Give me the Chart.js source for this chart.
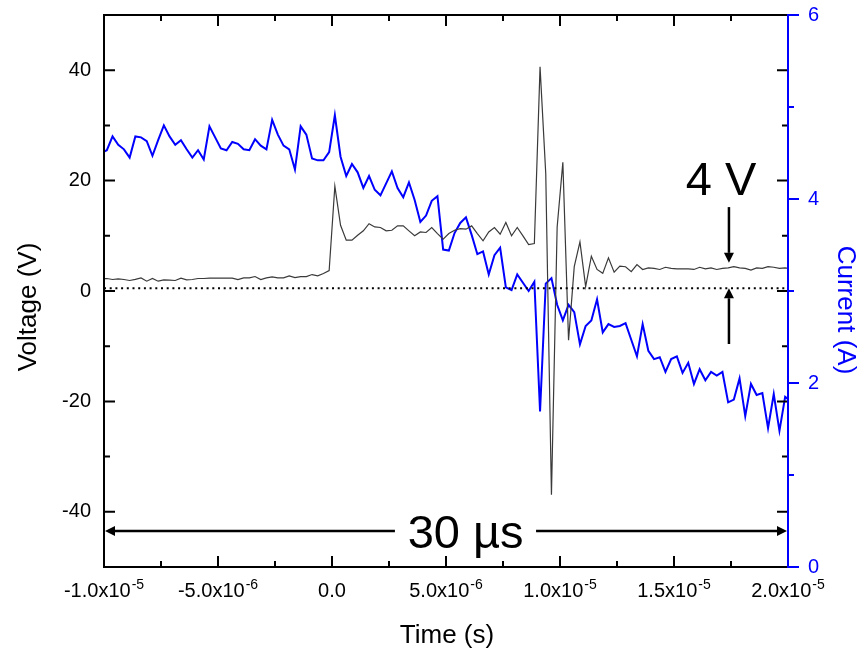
<!DOCTYPE html>
<html>
<head>
<meta charset="utf-8">
<title>Voltage and current vs time</title>
<script src="https://cdn.jsdelivr.net/npm/chart.js@4.4.0/dist/chart.umd.min.js"></script>
<style>
  html, body { margin: 0; padding: 0; background: #fff; }
  #wrap { width: 861px; height: 650px; }
</style>
</head>
<body>
<div id="wrap"><canvas id="chart" width="861" height="650"></canvas></div>
<script>
// Sample times (µs) – scope record, 0.25 µs apart
const timeUs = [
  -10.125, -9.875, -9.625, -9.375, -9.125, -8.875, -8.625, -8.375, -8.125, -7.875,
  -7.625, -7.375, -7.125, -6.875, -6.625, -6.375, -6.125, -5.875, -5.625, -5.375,
  -5.125, -4.875, -4.625, -4.375, -4.125, -3.875, -3.625, -3.375, -3.125, -2.875,
  -2.625, -2.375, -2.125, -1.875, -1.625, -1.375, -1.125, -0.875, -0.625, -0.375,
  -0.125, 0.125, 0.375, 0.625, 0.875, 1.125, 1.375, 1.625, 1.875, 2.125,
  2.375, 2.625, 2.875, 3.125, 3.375, 3.625, 3.875, 4.125, 4.375, 4.625,
  4.875, 5.125, 5.375, 5.625, 5.875, 6.125, 6.375, 6.625, 6.875, 7.125,
  7.375, 7.625, 7.875, 8.125, 8.375, 8.625, 8.875, 9.125, 9.375, 9.625,
  9.875, 10.125, 10.375, 10.625, 10.875, 11.125, 11.375, 11.625, 11.875, 12.125,
  12.375, 12.625, 12.875, 13.125, 13.375, 13.625, 13.875, 14.125, 14.375, 14.625,
  14.875, 15.125, 15.375, 15.625, 15.875, 16.125, 16.375, 16.625, 16.875, 17.125,
  17.375, 17.625, 17.875, 18.125, 18.375, 18.625, 18.875, 19.125, 19.375, 19.625,
  19.875, 20.125,
];

// Voltage (V), black trace
const voltage = [
  2.2, 2.26, 2.08, 2.2, 2.08, 1.9, 2.1, 2.38, 1.78, 2.26,
  1.78, 2.02, 1.96, 1.9, 2.32, 2.02, 2.08, 2.26, 2.26, 2.32,
  2.32, 2.32, 2.32, 2.32, 2.08, 2.38, 2.38, 2.62, 2.08, 2.38,
  2.56, 2.38, 2.38, 2.74, 2.44, 2.62, 2.62, 2.98, 2.74, 3.17,
  3.71, 19.0, 11.9, 9.2, 9.2, 10.1, 10.9, 12.2, 11.6, 11.5,
  10.9, 11.0, 11.8, 11.8, 10.9, 10.0, 10.7, 10.6, 11.5, 10.4,
  9.4, 10.4, 11.0, 11.3, 11.2, 11.8, 10.4, 9.1, 10.7, 11.5,
  10.3, 12.4, 10.0, 11.5, 10.0, 8.4, 8.6, 40.6, 21.3, -36.9,
  11.6, 23.3, -8.9, 4.4, 8.9, 0.8, 6.3, 3.9, 3.2, 6.0,
  3.4, 4.5, 4.4, 3.5, 4.8, 3.9, 4.2, 4.1, 3.9, 4.3,
  4.1, 4.0, 4.0, 4.0, 3.9, 4.3, 4.0, 4.2, 3.9, 4.1,
  4.2, 4.4, 4.2, 4.1, 3.8, 4.2, 4.1, 4.4, 4.3, 4.1,
  4.2, 4.0,
];

// Current (A), blue trace
const current = [
  4.50, 4.53, 4.68, 4.59, 4.54, 4.45, 4.68, 4.67, 4.63, 4.47,
  4.64, 4.80, 4.68, 4.59, 4.64, 4.54, 4.45, 4.53, 4.43, 4.79,
  4.67, 4.55, 4.53, 4.62, 4.60, 4.54, 4.53, 4.65, 4.58, 4.54,
  4.86, 4.70, 4.58, 4.54, 4.32, 4.79, 4.70, 4.44, 4.42, 4.42,
  4.51, 4.91, 4.46, 4.25, 4.38, 4.29, 4.12, 4.25, 4.10, 4.04,
  4.17, 4.30, 4.12, 4.02, 4.18, 3.99, 3.75, 3.82, 3.98, 4.03,
  3.45, 3.44, 3.63, 3.74, 3.80, 3.61, 3.40, 3.43, 3.18, 3.39,
  3.47, 3.04, 3.01, 3.18, 3.09, 3.00, 3.10, 1.69, 3.08, 3.14,
  2.85, 2.68, 2.85, 2.77, 2.42, 2.62, 2.68, 2.91, 2.55, 2.64,
  2.61, 2.62, 2.65, 2.47, 2.29, 2.64, 2.35, 2.26, 2.28, 2.12,
  2.26, 2.29, 2.11, 2.22, 1.99, 2.15, 2.03, 2.12, 2.08, 2.12,
  1.79, 1.82, 2.05, 1.64, 1.99, 1.87, 1.89, 1.51, 1.88, 1.48,
  1.85, 1.80,
];

// Dotted reference level on the voltage axis
const referenceLevel = 0.5;

// Axis ticks
const voltageTicks = [-40, -20, 0, 20, 40];
const voltageMinorTicks = [-30, -10, 10, 30];
const currentTicks = [0, 2, 4, 6];
const currentMinorTicks = [1, 3, 5];
const timeTicks = [-1e-5, -5e-6, 0, 5e-6, 1e-5, 1.5e-5, 2e-5];
const timeMinorTicks = [-7.5e-6, -2.5e-6, 2.5e-6, 7.5e-6, 1.25e-5, 1.75e-5];
const timeTickMantissa = ['-1.0', '-5.0', '0.0', '5.0', '1.0', '1.5', '2.0'];
const timeTickExponent = ['-5', '-6', '', '-6', '-5', '-5', '-5'];

// Annotations, in data units (time in s, level in V)
const marks = {
  downArrow: { t: 1.741e-5, from: 15.2, to: 5.1 },
  upArrow: { t: 1.741e-5, from: -9.6, to: 0.5 },
  fourVolt: { t: 1.706e-5, v: 17.4, text: '4 V' },
  spanLeft: { v: -43.5, from: 2.76e-6, to: -1e-5 },
  spanRight: { v: -43.5, from: 8.95e-6, to: 2e-5 },
  spanText: { t: 5.86e-6, v: -46.5, text: '30 µs' },
};

const FONT = '"Liberation Sans", Arial, Helvetica, sans-serif';
const BLUE = '#0000ff';
Chart.defaults.font.family = FONT;

const toPoints = (ys) => ys.map((y, i) => ({ x: timeUs[i] * 1e-6, y }));

function arrow(ctx, x1, y1, x2, y2) {
  const ang = Math.atan2(y2 - y1, x2 - x1);
  const len = 10, half = 5;
  const bx = x2 - len * Math.cos(ang), by = y2 - len * Math.sin(ang);
  ctx.beginPath();
  ctx.moveTo(x1, y1);
  ctx.lineTo(bx, by);
  ctx.stroke();
  ctx.beginPath();
  ctx.moveTo(x2, y2);
  ctx.lineTo(bx + half * Math.sin(ang), by - half * Math.cos(ang));
  ctx.lineTo(bx - half * Math.sin(ang), by + half * Math.cos(ang));
  ctx.closePath();
  ctx.fill();
}

// Frame, inward ticks, superscript time labels, titles and annotations
const decorations = {
  id: 'decorations',
  afterDraw(chart) {
    const { ctx, chartArea: a } = chart;
    const { x, y, y1 } = chart.scales;
    ctx.save();

    ctx.strokeStyle = '#000';
    ctx.lineWidth = 2;
    ctx.beginPath();
    ctx.moveTo(a.right, a.top);
    ctx.lineTo(a.left, a.top);
    ctx.lineTo(a.left, a.bottom);
    ctx.lineTo(a.right + 1, a.bottom);
    ctx.stroke();

    ctx.beginPath();
    const vTick = (list, len) => list.forEach((t) => {
      const px = x.getPixelForValue(t);
      ctx.moveTo(px, a.bottom); ctx.lineTo(px, a.bottom - len);
      ctx.moveTo(px, a.top); ctx.lineTo(px, a.top + len);
    });
    const hTick = (list, len) => list.forEach((v) => {
      const py = y.getPixelForValue(v);
      ctx.moveTo(a.left, py); ctx.lineTo(a.left + len, py);
      ctx.moveTo(a.right, py); ctx.lineTo(a.right - len, py);
    });
    vTick(timeTicks, 11);
    vTick(timeMinorTicks, 6);
    hTick(voltageTicks, 11);
    hTick(voltageMinorTicks, 6);
    ctx.stroke();

    // right current axis, blue, ticks outward
    ctx.strokeStyle = BLUE;
    ctx.beginPath();
    ctx.moveTo(a.right, a.top - 1);
    ctx.lineTo(a.right, a.bottom + 1);
    currentTicks.forEach((c) => {
      const py = y1.getPixelForValue(c);
      ctx.moveTo(a.right, py); ctx.lineTo(a.right + 11, py);
    });
    currentMinorTicks.forEach((c) => {
      const py = y1.getPixelForValue(c);
      ctx.moveTo(a.right, py); ctx.lineTo(a.right + 6, py);
    });
    ctx.stroke();

    // time tick labels with exponents
    ctx.fillStyle = '#000';
    ctx.textAlign = 'left';
    ctx.textBaseline = 'alphabetic';
    timeTicks.forEach((t, i) => {
      const exp = timeTickExponent[i];
      const main = timeTickMantissa[i] + (exp ? 'x10' : '');
      ctx.font = '20px ' + FONT;
      const w1 = ctx.measureText(main).width;
      ctx.font = '14px ' + FONT;
      const w2 = exp ? ctx.measureText(exp).width + 1 : 0;
      const start = x.getPixelForValue(t) - (w1 + w2) / 2;
      ctx.font = '20px ' + FONT;
      ctx.fillText(main, start, 597);
      if (exp) {
        ctx.font = '14px ' + FONT;
        ctx.fillText(exp, start + w1 + 1, 589);
      }
    });

    // axis titles
    ctx.font = '26px ' + FONT;
    ctx.textAlign = 'center';
    ctx.fillText('Time (s)', (a.left + a.right) / 2 + 1, 643);
    ctx.save();
    ctx.translate(36, 307);
    ctx.rotate(-Math.PI / 2);
    ctx.fillText('Voltage (V)', 0, 0);
    ctx.restore();
    ctx.save();
    ctx.fillStyle = BLUE;
    ctx.translate(838, 310);
    ctx.rotate(Math.PI / 2);
    ctx.fillText('Current (A)', 0, 0);
    ctx.restore();

    // annotations
    ctx.strokeStyle = '#000';
    ctx.fillStyle = '#000';
    ctx.lineWidth = 2.5;
    const d = marks.downArrow, u = marks.upArrow;
    arrow(ctx, x.getPixelForValue(d.t), y.getPixelForValue(d.from), x.getPixelForValue(d.t), y.getPixelForValue(d.to));
    arrow(ctx, x.getPixelForValue(u.t), y.getPixelForValue(u.from), x.getPixelForValue(u.t), y.getPixelForValue(u.to));
    const sl = marks.spanLeft, sr = marks.spanRight;
    arrow(ctx, x.getPixelForValue(sl.from), y.getPixelForValue(sl.v), x.getPixelForValue(sl.to) + 1, y.getPixelForValue(sl.v));
    arrow(ctx, x.getPixelForValue(sr.from), y.getPixelForValue(sr.v), x.getPixelForValue(sr.to) - 1, y.getPixelForValue(sr.v));
    ctx.font = '47px ' + FONT;
    ctx.textAlign = 'center';
    ctx.fillText(marks.fourVolt.text, x.getPixelForValue(marks.fourVolt.t), y.getPixelForValue(marks.fourVolt.v));
    ctx.fillText(marks.spanText.text, x.getPixelForValue(marks.spanText.t), y.getPixelForValue(marks.spanText.v));

    ctx.restore();
  },
};

const fitY = (width) => (s) => {
  s.width = width;
  s.paddingTop = 0;
  s.paddingBottom = 0;
};

new Chart(document.getElementById('chart'), {
  type: 'line',
  data: {
    datasets: [
      {
        label: 'Reference',
        data: [{ x: -1e-5, y: referenceLevel }, { x: 2e-5, y: referenceLevel }],
        yAxisID: 'y',
        borderColor: '#000',
        borderWidth: 2,
        borderDash: [2, 3.7],
        pointRadius: 0,
      },
      {
        label: 'Voltage',
        data: toPoints(voltage),
        yAxisID: 'y',
        borderColor: '#3a3a3a',
        borderWidth: 1.2,
        pointRadius: 0,
        tension: 0,
      },
      {
        label: 'Current',
        data: toPoints(current),
        yAxisID: 'y1',
        borderColor: BLUE,
        borderWidth: 2,
        pointRadius: 0,
        tension: 0,
      },
    ],
  },
  options: {
    responsive: false,
    animation: false,
    layout: { padding: { top: 15, left: 0, right: 0, bottom: 0 } },
    plugins: { legend: { display: false }, tooltip: { enabled: false } },
    scales: {
      x: {
        type: 'linear',
        min: -1e-5,
        max: 2e-5,
        ticks: { display: false },
        grid: { display: false, drawTicks: false },
        border: { display: false },
        afterFit: (s) => { s.height = 83; s.paddingLeft = 0; s.paddingRight = 0; },
      },
      y: {
        position: 'left',
        min: -50,
        max: 50,
        afterBuildTicks: (s) => { s.ticks = voltageTicks.map((v) => ({ value: v })); },
        ticks: { color: '#000', padding: 13, font: { size: 20 } },
        grid: { display: false, drawTicks: false },
        border: { display: false },
        afterFit: fitY(104),
      },
      y1: {
        position: 'right',
        min: 0,
        max: 6,
        afterBuildTicks: (s) => { s.ticks = currentTicks.map((v) => ({ value: v })); },
        ticks: { color: BLUE, padding: 20, font: { size: 20 } },
        grid: { display: false, drawTicks: false },
        border: { display: false },
        afterFit: fitY(73),
      },
    },
  },
  plugins: [decorations],
});
</script>
</body>
</html>
